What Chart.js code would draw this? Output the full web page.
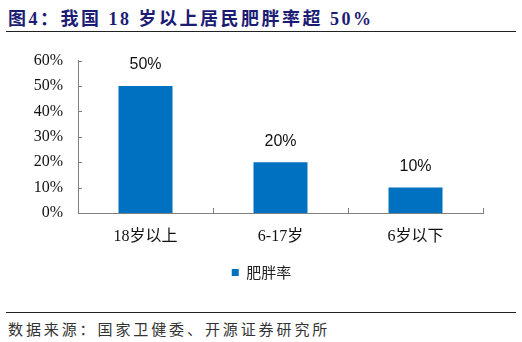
<!DOCTYPE html>
<html>
<head>
<meta charset="utf-8">
<script src="https://cdn.jsdelivr.net/npm/chart.js@4.4.1/dist/chart.umd.min.js"></script>
<style>
  body{margin:0;background:#fff;width:522px;height:342px;position:relative;overflow:hidden;}
  .title{position:absolute;left:8px;top:4px;font:bold 18px "Liberation Serif","Noto Sans CJK SC",serif;color:#1c1c74;letter-spacing:2.5px;white-space:nowrap;}
  .rule{position:absolute;left:6px;width:510px;height:1px;background:#222;}
  .source{position:absolute;left:8px;top:318px;font:15px "Liberation Serif","Noto Sans CJK SC",serif;color:#333;letter-spacing:2.9px;white-space:nowrap;}
  .wrap{position:absolute;left:0;top:36px;width:522px;height:254px;}
</style>
</head>
<body>
<div class="title">图4：我国 18 岁以上居民肥胖率超 50%</div>
<div class="rule" style="top:31px"></div>
<div class="wrap"><canvas id="chart"></canvas></div>
<div class="rule" style="top:312px"></div>
<div class="source">数据来源：国家卫健委、开源证券研究所</div>
<script>
// age groups and obesity rate (%)
const groups = ['18岁以上', '6-17岁', '6岁以下'];
const obesityRate = [50, 20, 10];
const seriesName = '肥胖率';
const yMax = 60;
const yStep = 10;

const axisColor = '#7f7f7f';

// value labels above bars + short inward tick marks on both axes
const barLabels = {
    id: 'barLabels',
    beforeDraw(chart){
        // nudge the legend a little to the right
        chart.legend.left += 20;
        chart.legend.right += 20;
    },
    afterDatasetsDraw(chart){
        const ctx = chart.ctx;
        const meta = chart.getDatasetMeta(0);
        ctx.save();
        ctx.fillStyle = '#111';
        ctx.font = '16px "Liberation Sans", sans-serif';
        ctx.textAlign = 'center';
        ctx.textBaseline = 'middle';
        meta.data.forEach((bar, i)=>{
            ctx.fillText(obesityRate[i] + '%', bar.x, bar.y - 21);
        });
        ctx.restore();
    },
    afterDraw(chart){
        const ctx = chart.ctx;
        const x = chart.scales.x, y = chart.scales.y;
        ctx.save();
        ctx.strokeStyle = axisColor;
        ctx.lineWidth = 1;
        ctx.beginPath();
        y.ticks.forEach(t=>{
            const py = Math.round(y.getPixelForValue(t.value)) + 0.5;
            ctx.moveTo(x.left, py);
            ctx.lineTo(x.left + 4, py);
        });
        for(let i = 1; i <= groups.length; i++){
            const px = Math.round(x.getPixelForValue(i - 0.5)) + 0.5;
            ctx.moveTo(px, y.bottom);
            ctx.lineTo(px, y.bottom - 5);
        }
        ctx.stroke();
        ctx.restore();
    }
};

new Chart(document.getElementById('chart'), {
    type: 'bar',
    data: {
        labels: groups,
        datasets: [{
            label: seriesName,
            data: obesityRate,
            backgroundColor: '#0070c0',
            categoryPercentage: 0.4,
            barPercentage: 1
        }]
    },
    options: {
        responsive: true,
        maintainAspectRatio: false,
        animation: false,
        layout: { padding: { left: 0, right: 39, top: 24, bottom: 0 } },
        plugins: {
            legend: {
                position: 'bottom',
                labels: {
                    boxWidth: 7, boxHeight: 7, padding: 10,
                    color: '#222',
                    font: { size: 15, family: '"Noto Sans CJK SC", sans-serif' }
                }
            },
            tooltip: { enabled: false }
        },
        scales: {
            x: {
                grid: { display: false, drawTicks: false },
                border: { color: axisColor },
                ticks: { color: '#111', padding: 14, font: { size: 16, family: '"Liberation Serif", "Noto Sans CJK SC", serif' } },
                afterFit(s){ s.height = 42; }
            },
            y: {
                min: 0, max: yMax,
                grid: { display: false, drawTicks: false },
                border: { color: axisColor },
                ticks: {
                    stepSize: yStep, padding: 15, color: '#111',
                    font: { size: 16, family: '"Liberation Serif", serif' },
                    callback: v => v + '%'
                },
                afterFit(s){ s.width = 78; }
            }
        }
    },
    plugins: [barLabels]
});
</script>
</body>
</html>
